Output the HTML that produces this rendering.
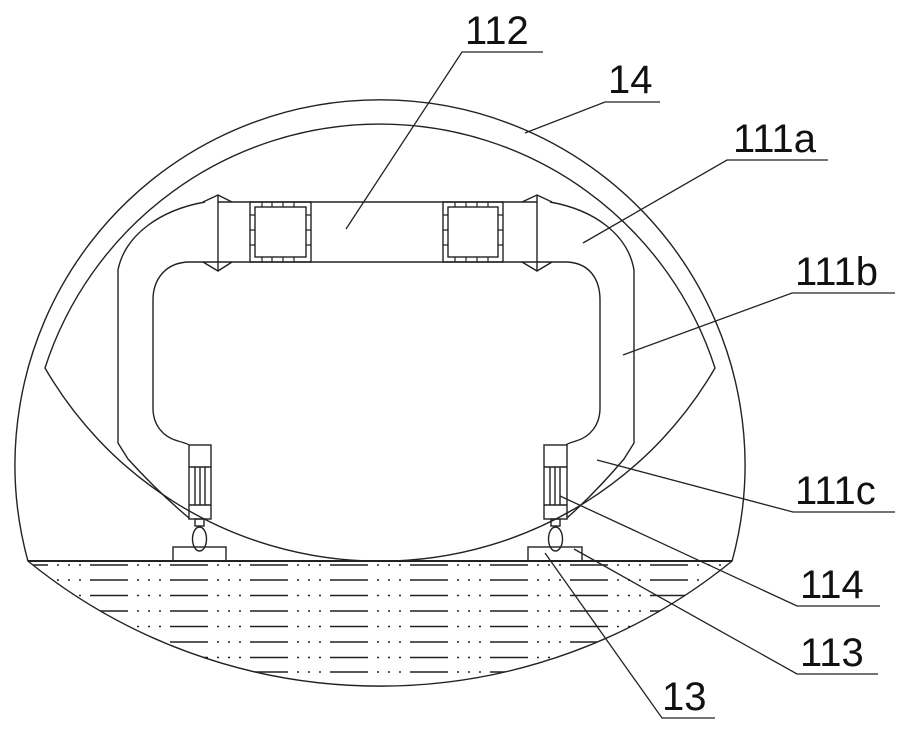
<!DOCTYPE html>
<html><head><meta charset="utf-8"><style>
html,body{margin:0;padding:0;background:#fff;}
svg{display:block;}
text{font-family:"Liberation Sans",sans-serif;font-size:40px;fill:#111;}
</style></head><body>
<svg width="905" height="735" viewBox="0 0 905 735" xmlns="http://www.w3.org/2000/svg">
<defs>
<clipPath id="w"><path d="M27.9,561 L732.1,561 A558,558 0 0 1 27.9,561 Z"/></clipPath>
</defs>
<g fill="none" stroke="#222" stroke-width="1.4">
<path d="M27.9,561 A365,365 0 1 1 732.1,561 A558,558 0 0 1 27.9,561 Z"/>
<line x1="27.9" y1="561" x2="732.1" y2="561" stroke-width="2"/>
<path d="M45,368 A352,352 0 0 1 715,368 A387,387 0 0 1 45,368 Z"/>
<g clip-path="url(#w)" stroke-dasharray="38 9 2 9 2 9 2 9" stroke-width="1.4">
<line x1="10" y1="565" x2="760" y2="565"/>
<line x1="10" y1="580" x2="760" y2="580"/>
<line x1="10" y1="595.5" x2="760" y2="595.5"/>
<line x1="10" y1="611" x2="760" y2="611"/>
<line x1="10" y1="626.5" x2="760" y2="626.5"/>
<line x1="10" y1="642" x2="760" y2="642"/>
<line x1="10" y1="657.5" x2="760" y2="657.5"/>
<line x1="10" y1="672" x2="760" y2="672"/>
</g>
<!-- frame outer -->
<path d="M205,202 C160,210 125,235 118,270 L118,443 L128,459 Q158,492 189,518"/>
<path d="M550,202 C595,210 628,235 634,270 L634,443 L624,459 Q596,492 567,518"/>
<!-- frame inner -->
<path d="M190,262 C165,262 153,280 153,300 L153,408 C153,425 163,437 178,441 C185,443 188,444 189,445"/>
<path d="M565,262 C590,262 600,280 600,300 L600,408 C600,425 590,437 576,441 C569,443 567,444 566,445"/>
<!-- beam -->
<line x1="218" y1="202" x2="537" y2="202"/>
<line x1="190" y1="262" x2="565" y2="262"/>
<line x1="218" y1="195" x2="218" y2="271"/>
<line x1="537" y1="195" x2="537" y2="271"/>
<path d="M203,202 L218,195 L232,202 M203,262 L218,271 L232,262"/>
<path d="M522,202 L537,195 L552,202 M522,262 L537,271 L552,262"/>
<rect x="250" y="202" width="61" height="60"/>
<rect x="255" y="207" width="51" height="50"/>
<rect x="443" y="202" width="60" height="60"/>
<rect x="448" y="207" width="50" height="50"/>
<path d="M262,202v5M272,202v5M283,202v5M294,202v5M262,257v5M272,257v5M283,257v5M294,257v5M250,215h5M250,230h5M250,245h5M306,215h5M306,230h5M306,245h5" stroke-width="1.2"/>
<path d="M455,202v5M466,202v5M477,202v5M488,202v5M455,257v5M466,257v5M477,257v5M488,257v5M443,215h5M443,230h5M443,245h5M498,215h5M498,230h5M498,245h5" stroke-width="1.2"/>
<!-- motors -->
<rect x="189" y="445" width="22" height="74"/>
<path d="M189,467h22M189,505h22M195,467v38M200,467v38M205,467v38"/>
<rect x="195" y="519" width="9" height="7"/>
<ellipse cx="199.5" cy="539" rx="7" ry="12"/>
<rect x="173" y="547" width="53" height="14"/>
<rect x="544" y="445" width="23" height="74"/>
<path d="M544,467h23M544,505h23M550,467v38M555,467v38M560,467v38"/>
<rect x="551" y="519" width="9" height="7"/>
<ellipse cx="555.5" cy="539" rx="7" ry="12"/>
<rect x="528" y="547" width="54" height="14"/>
<!-- leaders -->
<path d="M543,52 H462 L346,229" stroke-width="1.3"/>
<path d="M660,102 H605 L525,133" stroke-width="1.3"/>
<path d="M828,160 H727 L583,243" stroke-width="1.3"/>
<path d="M895,293 H792 L623,355" stroke-width="1.3"/>
<path d="M895,512 H793 L597,460" stroke-width="1.3"/>
<path d="M880,606 H797 L560,496" stroke-width="1.3"/>
<path d="M878,674 H797 L574,549" stroke-width="1.3"/>
<path d="M715,718 H662 L545,553" stroke-width="1.3"/>
</g>
<text x="465" y="44">112</text>
<text x="608" y="93">14</text>
<text x="733" y="152">111a</text>
<text x="795" y="285">111b</text>
<text x="795" y="504">111c</text>
<text x="800" y="598">114</text>
<text x="800" y="666">113</text>
<text x="662" y="710">13</text>
</svg>
</body></html>
